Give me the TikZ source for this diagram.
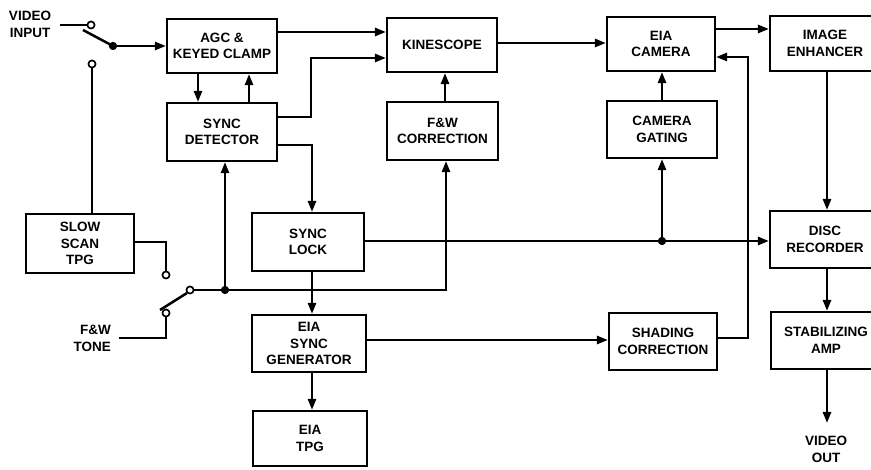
\documentclass[tikz,border=0pt]{standalone}
\usepackage{fontspec}
\setmainfont{Liberation Sans}
\usetikzlibrary{arrows.meta}
\begin{document}
\begin{tikzpicture}[x=1pt,y=-1pt,
  blk/.style={draw,line width=2.1pt,rectangle,inner sep=0pt,align=center,
    font=\fontsize{13.5}{16.5}\selectfont\bfseries},
  lbl/.style={inner sep=0pt,font=\fontsize{13.5}{17}\selectfont\bfseries},
  wire/.style={line width=2.5pt},
  arr/.style={wire,-{Triangle[length=11pt,width=8pt]}},
  open/.style={draw,line width=1.5pt,fill=white,circle,inner sep=0pt,minimum size=7pt},
  dot/.style={fill,circle,inner sep=0pt,minimum size=8pt}]
\useasboundingbox (0,0) rectangle (871,470);
\clip (0,0) rectangle (871,470);
\fill[white] (0,0) rectangle (871,470);
% blocks
\node[blk,minimum width=110pt,minimum height=54pt] (agc) at (222,46) {AGC \&\\KEYED CLAMP};
\node[blk,minimum width=110pt,minimum height=58pt] (sd) at (222,132) {SYNC\\DETECTOR};
\node[blk,minimum width=110pt,minimum height=54pt] (kin) at (442,45) {KINESCOPE};
\node[blk,minimum width=111pt,minimum height=58pt] (fwc) at (442.5,131) {F\&W\\CORRECTION};
\node[blk,minimum width=108pt,minimum height=54pt] (cam) at (661,44) {EIA\\CAMERA};
\node[blk,minimum width=110pt,minimum height=57pt] (gat) at (662,129.5) {CAMERA\\GATING};
\node[blk,minimum width=110pt,minimum height=55pt] (enh) at (825,43.5) {IMAGE\\ENHANCER};
\node[blk,minimum width=108pt,minimum height=59pt] (ss) at (80,243.5) {SLOW\\SCAN\\TPG};
\node[blk,minimum width=112pt,minimum height=58pt] (sl) at (308,242) {SYNC\\LOCK};
\node[blk,minimum width=114pt,minimum height=57pt] (gen) at (309,343.5) {EIA\\SYNC\\GENERATOR};
\node[blk,minimum width=114pt,minimum height=55pt] (tpg) at (310,438.5) {EIA\\TPG};
\node[blk,minimum width=108pt,minimum height=57pt] (sh) at (663,341.5) {SHADING\\CORRECTION};
\node[blk,minimum width=110pt,minimum height=57pt] (disc) at (825,239.5) {DISC\\RECORDER};
\node[blk,minimum width=110pt,minimum height=57pt] (stab) at (826,340.5) {STABILIZING\\AMP};
% labels
\node[lbl,align=center] (vin) at (30,24) {VIDEO\\INPUT};
\node[lbl,align=right,anchor=east] (fwt) at (111,338) {F\&W\\TONE};
\node[lbl,align=center] (vout) at (826,449) {VIDEO\\OUT};
% switch contacts and junctions
\node[open] (c1) at (91,25) {};
\node[open] (c2) at (92,64) {};
\node[dot] (p1) at (113,46) {};
\node[open] (c3) at (166,275) {};
\node[open] (c4) at (166,313) {};
\node[open] (c5) at (190,290) {};
\node[dot] (j1) at (225,290) {};
\node[dot] (j2) at (662,241) {};
\coordinate (b1) at (83,30);
\coordinate (b2) at (160,310);
\coordinate (vo) at (827,423);
% video input switch
\draw[wire] (vin.east |- c1) ++(9,0) -- (c1.west);
\draw[wire] (b1) -- (p1.center);
\draw[arr] (p1.center) -- (agc.west |- p1);
\draw[wire] (c2.south) -- (ss.north -| c2);
% second switch
\draw[wire] (ss.east |- 0,242) -| (c3.south);
\draw[wire] (fwt.east |- 0,338) ++(8,0) -| (c4.south);
\draw[wire] (b2) -- (c5.south west);
\draw[wire] (c5.east) -- (j1.center);
\draw[arr] (j1.center) -- (sd.south -| j1);
\draw[arr] (j1.center) -- (446,290) -- (fwc.south -| 446,0);
% AGC / sync detector
\draw[arr] (agc.south -| 198,0) -- (sd.north -| 198,0);
\draw[arr] (sd.north -| 249,0) -- (agc.south -| 249,0);
\draw[arr] (agc.east |- 0,32) -- (kin.west |- 0,32);
\draw[arr] (sd.east |- 0,117) -- (311,117) -- (311,58) -- (kin.west |- 0,58);
\draw[arr] (sd.east |- 0,145) -- (312,145) -- (sl.north -| 312,0);
% kinescope / camera
\draw[arr] (fwc.north -| 445,0) -- (kin.south -| 445,0);
\draw[arr] (kin.east |- 0,43) -- (cam.west |- 0,43);
\draw[arr] (gat.north -| j2) -- (cam.south -| j2);
\draw[arr] (cam.east |- 0,29) -- (enh.west |- 0,29);
% sync lock / generator
\draw[arr] (sl.east |- 0,241) -- (disc.west |- 0,241);
\draw[arr] (j2.center) -- (gat.south -| j2);
\draw[arr] (sl.south -| 312,0) -- (gen.north -| 312,0);
\draw[arr] (gen.south -| 312,0) -- (tpg.north -| 312,0);
\draw[arr] (gen.east |- 0,340) -- (sh.west |- 0,340);
\draw[arr] (sh.east |- 0,338) -- (748,338) -- (748,57) -- (cam.east |- 0,57);
% right column
\draw[arr] (enh.south -| 827,0) -- (disc.north -| 827,0);
\draw[arr] (disc.south -| 827,0) -- (stab.north -| 827,0);
\draw[arr] (stab.south -| vo) -- (vo);
% redraw contacts on top
\node[open] at (c1) {};
\node[open] at (c2) {};
\node[open] at (c3) {};
\node[open] at (c4) {};
\node[open] at (c5) {};
\node[dot] at (p1) {};
\node[dot] at (j1) {};
\node[dot] at (j2) {};
\end{tikzpicture}
\end{document}
